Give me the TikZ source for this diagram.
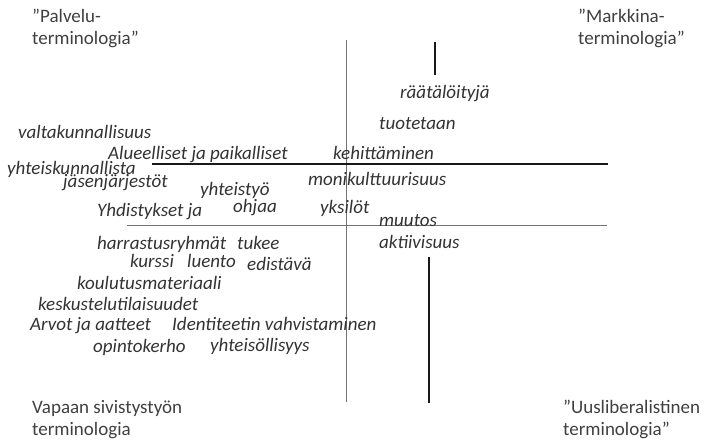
\documentclass[tikz,border=0pt]{standalone}
\usepackage{fontspec}
\setmainfont{Carlito}
\begin{document}
\begin{tikzpicture}[x=1pt,y=-1pt,
  term/.style={anchor=base west,inner sep=0pt,text=black!80,font=\fontsize{19}{22}\selectfont\itshape},
  corner/.style={anchor=base west,inner sep=0pt,text=black!75,font=\fontsize{19}{22}\selectfont},
  axis/.style={draw=black!55,line width=0.9pt},
  boldaxis/.style={draw=black!90,line width=2.4pt}]
\useasboundingbox[fill=white] (0,0) rectangle (705,441);

% axes
\draw[axis] (346,40) -- (346,402);
\draw[axis] (127,225) -- (607,225);
\draw[boldaxis] (152,164) -- (608,164);
\draw[boldaxis] (435,42) -- (435,75);
\draw[boldaxis] (429,257) -- (429,403);

% corner labels, one node per line
\node[corner] (palvelu1) at (32,23) {”Palvelu-};
\node[corner] (palvelu2) at (32,45) {terminologia”};
\node[corner] (markkina1) at (578,23) {”Markkina-};
\node[corner] (markkina2) at (578,45) {terminologia”};
\node[corner] (vapaa1) at (32,413) {Vapaan sivistystyön};
\node[corner] (vapaa2) at (32,435) {terminologia};
\node[corner] (uuslib1) at (563,413) {”Uusliberalistinen};
\node[corner] (uuslib2) at (563,435) {terminologia”};

% terms
\node[term] (t1) at (400,99) {räätälöityjä};
\node[term] (t2) at (379,130) {tuotetaan};
\node[term] (t3) at (18,139) {valtakunnallisuus};
\node[term] (t4) at (108,160) {Alueelliset ja paikalliset};
\node[term] (t5) at (333,160) {kehittäminen};
\node[term] (t6) at (7,175) {yhteiskunnallista};
\node[term] (t7) at (63,188) {jäsenjärjestöt};
\node[term] (t8) at (200,196) {yhteistyö};
\node[term] (t9) at (308,186) {monikulttuurisuus};
\node[term] (t10) at (97,217) {Yhdistykset ja};
\node[term] (t11) at (233,213) {ohjaa};
\node[term] (t12) at (320,214) {yksilöt};
\node[term] (t13) at (379,227) {muutos};
\node[term] (t14) at (97,250) {harrastusryhmät};
\node[term] (t15) at (237,250) {tukee};
\node[term] (t16) at (379,248) {aktiivisuus};
\node[term] (t17) at (130,267) {kurssi};
\node[term] (t18) at (187,267) {luento};
\node[term] (t19) at (247,270) {edistävä};
\node[term] (t20) at (77,289) {koulutusmateriaali};
\node[term] (t21) at (38,310) {keskustelutilaisuudet};
\node[term] (t22) at (30,330) {Arvot ja aatteet};
\node[term] (t23) at (172,330) {Identiteetin vahvistaminen};
\node[term] (t24) at (93,352) {opintokerho};
\node[term] (t25) at (210,351) {yhteisöllisyys};
\end{tikzpicture}
\end{document}
